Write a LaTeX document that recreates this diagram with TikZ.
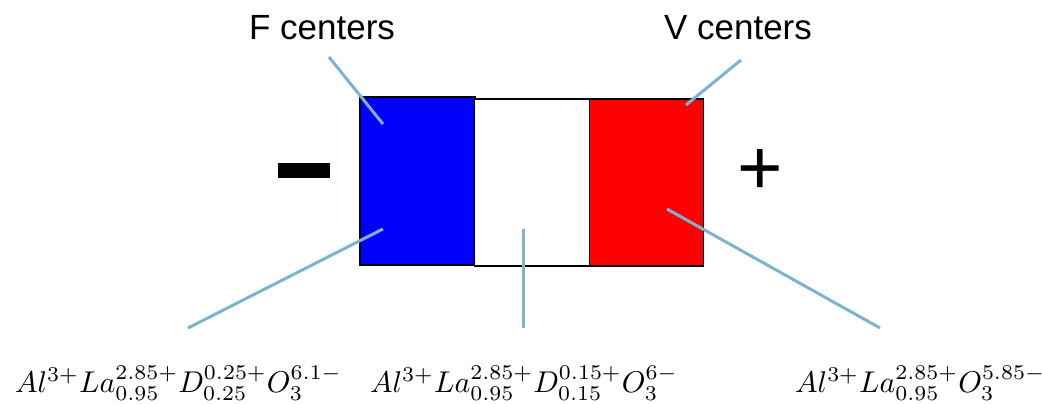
\documentclass[tikz,border=0pt]{standalone}
\usepackage{graphicx}
\usepackage{fontspec}
\setsansfont{Liberation Sans}
\usetikzlibrary{positioning}

\begin{document}
\begin{tikzpicture}[x=1pt,y=-1pt]
  % Couleurs
  \definecolor{traitbleu}{RGB}{125,180,205}
  \definecolor{bleuvif}{RGB}{0,0,255}
  \definecolor{rougevif}{RGB}{255,0,0}

  \useasboundingbox (0,0) rectangle (1042,404);

  % Blocs du cristal
  \node[draw=black, line width=1.5pt, fill=bleuvif, minimum width=115pt, minimum height=168pt, inner sep=0pt] (fbloc) at (417.5,181) {};
  \node[draw=black, line width=1.5pt, fill=white, minimum width=115pt, minimum height=167pt, inner sep=0pt] (coeur) at (532,182.5) {};
  \node[draw=black, line width=1.5pt, fill=rougevif, minimum width=114pt, minimum height=167pt, inner sep=0pt] (vbloc) at (646.5,182.5) {};

  % Signes des électrodes
  \node[fill=black, minimum width=52pt, minimum height=15pt, inner sep=0pt] (moins) at (304,170.5) {};
  \node[font=\sffamily\fontsize{78}{78}\selectfont, inner sep=0pt] (plus) at (760,172) {+};

  % Étiquettes du haut
  \node[font=\sffamily\fontsize{35}{35}\selectfont, anchor=base, inner sep=0pt] (fcentres) at (322,40) {F centers};
  \node[font=\sffamily\fontsize{35}{35}\selectfont, anchor=base, inner sep=0pt] (vcentres) at (738,40) {V centers};

  % Formules du bas
  \node[anchor=base west, inner sep=0pt] (formf) at (15,392)
    {\scalebox{3}{$Al^{3+}La^{2.85+}_{0.95}D^{0.25+}_{0.25}O^{6.1-}_{3}$}};
  \node[anchor=base west, inner sep=0pt] (formc) at (370,392)
    {\scalebox{3}{$Al^{3+}La^{2.85+}_{0.95}D^{0.15+}_{0.15}O^{6-}_{3}$}};
  \node[anchor=base west, inner sep=0pt] (formv) at (795,392)
    {\scalebox{3}{$Al^{3+}La^{2.85+}_{0.95}O^{5.85-}_{3}$}};

  % Points des traits de rappel
  \coordinate (fhaut) at (329,57);   \coordinate (fin) at (383,124);
  \coordinate (vhaut) at (741,60);   \coordinate (vin) at (686,105);
  \coordinate (fbas) at (188,328);   \coordinate (fdans) at (383,229);
  \coordinate (cbas) at (523,328);   \coordinate (cdans) at (523,229);
  \coordinate (vbas) at (880,328);   \coordinate (vdans) at (667,209);

  % Traits de rappel
  \draw[traitbleu, line width=3pt] (fhaut) -- (fin);
  \draw[traitbleu, line width=3pt] (vhaut) -- (vin);
  \draw[traitbleu, line width=3pt] (fbas) -- (fdans);
  \draw[traitbleu, line width=3pt] (cbas) -- (cdans);
  \draw[traitbleu, line width=3pt] (vbas) -- (vdans);
\end{tikzpicture}
\end{document}
